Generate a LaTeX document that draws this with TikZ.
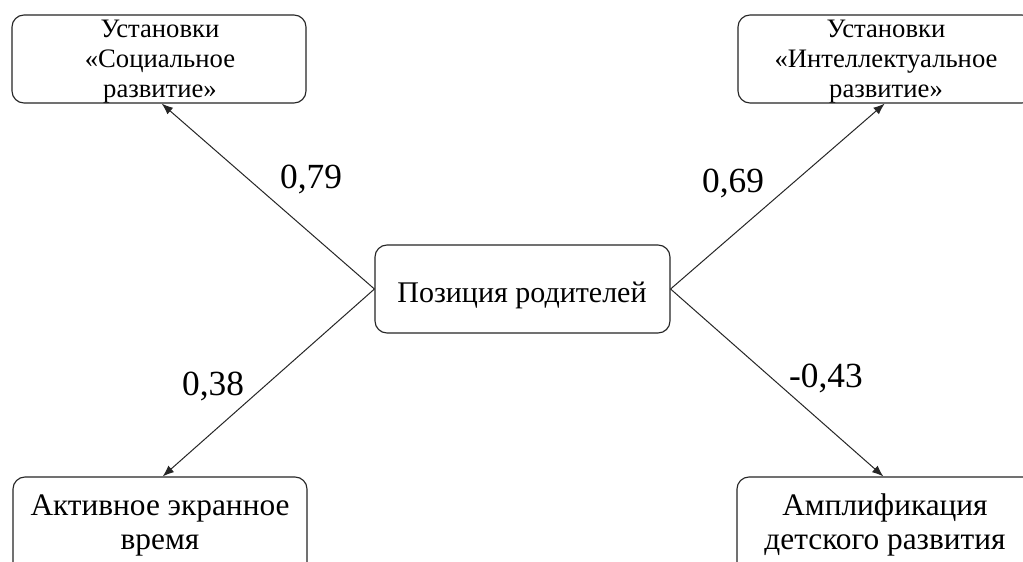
\documentclass[tikz,border=0pt]{standalone}
\usepackage{fontspec}
\setmainfont{Liberation Serif}
\usetikzlibrary{arrows.meta}
\begin{document}
\begin{tikzpicture}[x=0.75pt,y=-0.75pt,
  box/.style={draw=black!85,line width=0.85pt,rounded corners=9pt,inner sep=0pt},
  arr/.style={draw=black!85,line width=0.75pt,-{Latex[length=8.5pt,width=6.5pt]}},
  small/.style={font=\fontsize{20}{22.5}\selectfont,inner sep=0pt,anchor=base},
  big/.style={font=\fontsize{23.5}{25.5}\selectfont,inner sep=0pt,anchor=base},
  num/.style={font=\fontsize{26.5}{30}\selectfont,inner sep=0pt,anchor=base}]
\useasboundingbox (0,0) rectangle (1023,561);
\clip (0,0) rectangle (1023,561);
\fill[white] (0,0) rectangle (1023,561);
% boxes
\node[box,minimum width=220.5pt,minimum height=66pt] (tl) at (159,59) {};
\node[box,minimum width=222pt,minimum height=66pt] (tr) at (886,59) {};
\node[box,minimum width=220.5pt,minimum height=92.25pt] (bl) at (160,538.5) {};
\node[box,minimum width=223.5pt,minimum height=92.25pt] (br) at (886,538.5) {};
\node[box,minimum width=221.25pt,minimum height=66pt] (c) at (522.5,289) {};
% texts
\node[small] (tlt) at (160,37) {\begin{tabular}[t]{@{}c@{}}Установки\\«Социальное\\развитие»\end{tabular}};
\node[small] (trt) at (886,37) {\begin{tabular}[t]{@{}c@{}}Установки\\«Интеллектуальное\\развитие»\end{tabular}};
\node[big] (blt) at (160,515) {\begin{tabular}[t]{@{}c@{}}Активное экранное\\время\end{tabular}};
\node[big] (brt) at (885,515) {\begin{tabular}[t]{@{}c@{}}Амплификация\\детского развития\end{tabular}};
\node[font=\fontsize{22.5}{26}\selectfont,inner sep=0pt,anchor=base] (ct) at (522,302) {Позиция родителей};
% arrows
\draw[arr] (c.west) -- ([xshift=2pt]tl.south);
\draw[arr] (c.west) -- ([xshift=2pt]bl.north);
\draw[arr] (c.east) -- ([xshift=-1pt]tr.south);
\draw[arr] (c.east) -- ([xshift=-2pt]br.north);
% labels
\node[num] (l1) at (311,188) {0,79};
\node[num] (l2) at (733,192) {0,69};
\node[num] (l3) at (213,395) {0,38};
\node[num] (l4) at (826,387) {-0,43};
\end{tikzpicture}
\end{document}
